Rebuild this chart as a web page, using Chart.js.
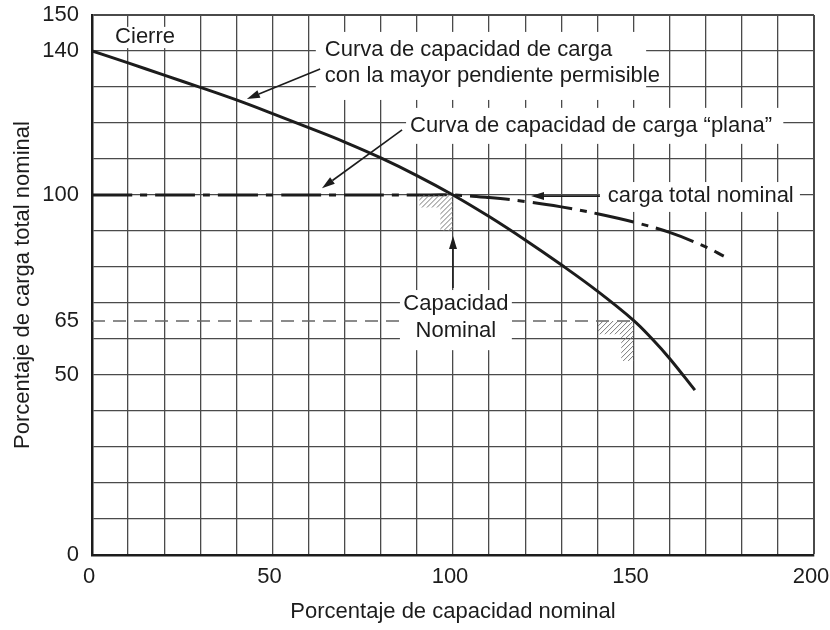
<!DOCTYPE html>
<html lang="es">
<head>
<meta charset="utf-8">
<title>Capacidad de carga</title>
<script src="https://cdn.jsdelivr.net/npm/chart.js@4.4.1/dist/chart.umd.min.js"></script>
<style>
  html, body { margin: 0; padding: 0; background: #fff; }
  #wrap { width: 830px; height: 630px; }
</style>
</head>
<body>
<div id="wrap"><canvas id="chart" width="830" height="630"></canvas></div>
<script>
const FONT = '"Liberation Sans", Arial, Helvetica, sans-serif';
const INK = "#1c1c1c";
const GRID = "#4a4a4a";

// ticks
const xGridStep = 10;
const yGridStep = 10;
const xTickLabels = [0, 50, 100, 150, 200];
const yTickLabels = [0, 50, 65, 100, 140, 150];

// curva de capacidad de carga con la mayor pendiente permisible
const steepX = [0, 10, 20, 30, 40, 50, 60, 70, 80, 90, 100, 110, 120, 130, 140, 150, 155, 160, 167];
const steepY = [140, 136.7, 133.3, 129.9, 126.4, 122.6, 118.7, 114.7, 110.3, 105.4, 100, 94, 87.5, 80.6, 73.3, 65.2, 60.2, 54.6, 45.8];

// curva "plana" / carga total nominal
const flatX = [0, 50, 90, 100, 110, 120, 130, 140, 150, 160, 170, 175];
const flatY = [100, 100, 100, 100, 99.3, 98.2, 96.7, 94.8, 92.5, 89.6, 85.6, 83];

// 65 % line
const ratedX = [0, 150];
const ratedY = [65, 65];

function toPoints(xs, ys) {
  return xs.map((x, i) => ({ x, y: ys[i] }));
}

// annotations (data coordinates)
const boxes = [
  [5.8, 23.8, 146.7, 140.8],
  [62.0, 153.5, 145.3, 126.4],
  [87.0, 191.5, 124.2, 114.2],
  [140.7, 196.1, 103.6, 95.3],
  [85.3, 116.3, 73.6, 56.9]
];

const labels = [
  { text: "Cierre", x: 6.4, y: 142.2, align: "left" },
  { text: "Curva de capacidad de carga", x: 64.5, y: 138.6, align: "left" },
  { text: "con la mayor pendiente permisible", x: 64.5, y: 131.4, align: "left" },
  { text: "Curva de capacidad de carga \u201Cplana\u201D", x: 88.1, y: 117.5, align: "left" },
  { text: "carga total nominal", x: 142.9, y: 98.1, align: "left" },
  { text: "Capacidad", x: 100.8, y: 68.1, align: "center" },
  { text: "Nominal", x: 100.8, y: 60.6, align: "center" }
];

const arrows = [
  [63.2, 135, 42.9, 126.7],
  [85.9, 118.1, 63.7, 101.9],
  [140.7, 99.7, 121.6, 99.7],
  [100, 74.2, 100, 88.6]
];

const hatches = [
  [[90.7, 100], [100, 100], [100, 90], [96.5, 90], [96.5, 96.5], [90.7, 96.5]],
  [[140.2, 65], [150, 65], [150, 53.9], [146.6, 53.9], [146.6, 61.3], [140.2, 61.3]]
];

const annotationsPlugin = {
  id: "annotations",
  afterDatasetsDraw(chart) {
    const { ctx, scales: { x, y } } = chart;
    const px = (v) => x.getPixelForValue(v);
    const py = (v) => y.getPixelForValue(v);

    ctx.save();

    // hatched corners
    hatches.forEach((poly) => {
      const pts = poly.map(([a, b]) => [px(a), py(b)]);
      const xs = pts.map((p) => p[0]);
      const ys = pts.map((p) => p[1]);
      const x0 = Math.min(...xs), x1 = Math.max(...xs);
      const y0 = Math.min(...ys), y1 = Math.max(...ys);
      ctx.save();
      ctx.beginPath();
      pts.forEach((p, i) => (i ? ctx.lineTo(p[0], p[1]) : ctx.moveTo(p[0], p[1])));
      ctx.closePath();
      ctx.clip();
      ctx.strokeStyle = "#7a7a7a";
      ctx.lineWidth = 1;
      const h = y1 - y0;
      for (let k = -h; k < x1 - x0 + h; k += 5) {
        ctx.beginPath();
        ctx.moveTo(x0 + k, y1);
        ctx.lineTo(x0 + k + h, y0);
        ctx.stroke();
      }
      ctx.restore();
    });

    // white label boxes
    ctx.fillStyle = "#fff";
    boxes.forEach(([a, b, c, d]) => {
      const l = px(a), r = px(b), t = py(c), btm = py(d);
      ctx.fillRect(l, t, r - l, btm - t);
    });

    // texts
    ctx.fillStyle = INK;
    ctx.font = "22px " + FONT;
    ctx.textBaseline = "alphabetic";
    labels.forEach((lb) => {
      ctx.textAlign = lb.align;
      ctx.fillText(lb.text, px(lb.x), py(lb.y));
    });

    // arrows
    ctx.strokeStyle = INK;
    ctx.fillStyle = INK;
    ctx.lineWidth = 1.6;
    arrows.forEach(([a, b, c, d]) => {
      const sx = px(a), sy = py(b), ex = px(c), ey = py(d);
      const ang = Math.atan2(ey - sy, ex - sx);
      const len = 13, half = 4;
      const bx = ex - len * Math.cos(ang), by = ey - len * Math.sin(ang);
      ctx.beginPath();
      ctx.moveTo(sx, sy);
      ctx.lineTo(bx, by);
      ctx.stroke();
      ctx.beginPath();
      ctx.moveTo(ex, ey);
      ctx.lineTo(bx + half * Math.sin(ang), by - half * Math.cos(ang));
      ctx.lineTo(bx - half * Math.sin(ang), by + half * Math.cos(ang));
      ctx.closePath();
      ctx.fill();
    });

    ctx.restore();
  }
};

const gridColor = (c) => (c.tick && c.tick.value === 65 ? "rgba(0,0,0,0)" : GRID);

new Chart(document.getElementById("chart"), {
  type: "line",
  data: {
    datasets: [
      {
        data: toPoints(ratedX, ratedY),
        borderColor: "#666",
        borderWidth: 1.4,
        borderDash: [13, 8],
        pointRadius: 0
      },
      {
        data: toPoints(flatX, flatY),
        borderColor: INK,
        borderWidth: 3,
        borderDash: [40, 8, 7, 8],
        tension: 0.4,
        pointRadius: 0
      },
      {
        data: toPoints(steepX, steepY),
        borderColor: INK,
        borderWidth: 3,
        tension: 0.4,
        pointRadius: 0
      }
    ]
  },
  options: {
    responsive: false,
    animation: false,
    events: [],
    layout: { padding: { left: 0, right: 16, top: 15, bottom: 0 } },
    plugins: {
      legend: { display: false },
      tooltip: { enabled: false }
    },
    scales: {
      x: {
        type: "linear",
        min: 0,
        max: 200,
        afterBuildTicks(scale) {
          const t = [];
          for (let v = 0; v <= 200; v += xGridStep) t.push({ value: v });
          scale.ticks = t;
        },
        afterFit(scale) {
          scale.height = 75;
          scale.paddingLeft = 0;
          scale.paddingRight = 0;
        },
        ticks: {
          autoSkip: false,
          maxRotation: 0,
          padding: 9,
          labelOffset: -3,
          color: INK,
          font: { family: FONT, size: 22 },
          callback: (v) => (xTickLabels.includes(v) ? String(v) : "")
        },
        grid: {
          color: GRID,
          lineWidth: (c) => (c.tick && c.tick.value === 200 ? 2 : 1.3),
          drawTicks: false
        },
        border: { color: INK, width: 2.5 },
        title: {
          display: true,
          text: "Porcentaje de capacidad nominal",
          color: INK,
          font: { family: FONT, size: 22 },
          padding: { top: 0, bottom: 5 }
        }
      },
      y: {
        type: "linear",
        min: 0,
        max: 150,
        afterBuildTicks(scale) {
          const t = [];
          for (let v = 0; v <= 150; v += yGridStep) t.push(v);
          yTickLabels.forEach((v) => { if (!t.includes(v)) t.push(v); });
          scale.ticks = t.sort((a, b) => a - b).map((v) => ({ value: v }));
        },
        afterFit(scale) {
          scale.width = 92;
          scale.paddingTop = 0;
          scale.paddingBottom = 0;
        },
        ticks: {
          autoSkip: false,
          padding: 13,
          color: INK,
          font: { family: FONT, size: 22 },
          callback: (v) => (yTickLabels.includes(v) ? String(v) : "")
        },
        grid: {
          color: gridColor,
          lineWidth: (c) => (c.tick && c.tick.value === 150 ? 2 : 1.3),
          drawTicks: false
        },
        border: { color: INK, width: 2.5 },
        title: {
          display: true,
          text: "Porcentaje de carga total nominal",
          color: INK,
          font: { family: FONT, size: 22 },
          padding: { top: 10, bottom: 0 }
        }
      }
    }
  },
  plugins: [annotationsPlugin]
});
</script>
</body>
</html>
